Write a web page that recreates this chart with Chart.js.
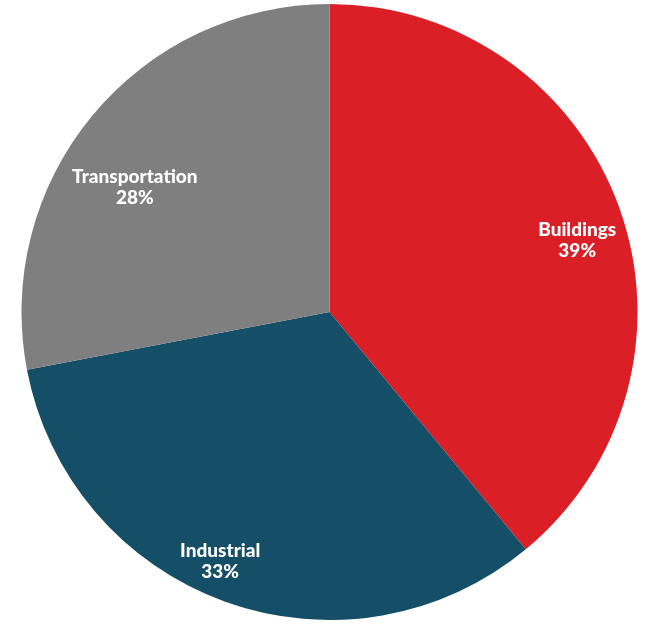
<!DOCTYPE html>
<html>
<head>
<meta charset="utf-8">
<script src="https://cdn.jsdelivr.net/npm/chart.js@4.4.1/dist/chart.umd.min.js"></script>
<style>
  html, body { margin: 0; padding: 0; background: #ffffff; }
  #wrap { position: relative; width: 647px; height: 626px; }
</style>
</head>
<body>
<div id="wrap"><canvas id="pie"></canvas></div>
<script>
// Sector shares
const sectors = ["Buildings", "Industrial", "Transportation"];
const shares = [39, 33, 28];
const sectorColors = ["#DA1F26", "#144F67", "#7F7F7F"];

// Where each label sits inside its slice: fraction of the radius and angle nudge (deg)
const labelRadius = [0.838, 0.883, 0.751];
const labelNudge = [3.5, 3.9, -6.9];

// Draws "Name" over "NN%" in white inside each slice
const sliceLabels = {
  id: "sliceLabels",
  afterDatasetsDraw(chart) {
    const ctx = chart.ctx;
    const meta = chart.getDatasetMeta(0);
    const total = shares.reduce((a, b) => a + b, 0);
    ctx.save();
    ctx.fillStyle = "#ffffff";
    ctx.font = "900 19px Lato";
    ctx.textAlign = "center";
    ctx.textBaseline = "middle";
    meta.data.forEach((arc, i) => {
      const p = arc.getProps(["x", "y", "startAngle", "endAngle", "outerRadius"], true);
      const mid = (p.startAngle + p.endAngle) / 2 + labelNudge[i] * Math.PI / 180;
      const r = p.outerRadius * labelRadius[i];
      const lx = p.x + Math.cos(mid) * r;
      const ly = p.y + Math.sin(mid) * r;
      ctx.fillText(sectors[i], lx, ly - 10);
      ctx.fillText(Math.round(shares[i] / total * 100) + "%", lx, ly + 11);
    });
    ctx.restore();
  }
};

new Chart(document.getElementById("pie"), {
  type: "pie",
  plugins: [sliceLabels],
  data: {
    labels: sectors,
    datasets: [{
      data: shares,
      backgroundColor: sectorColors,
      borderWidth: 0
    }]
  },
  options: {
    responsive: true,
    maintainAspectRatio: false,
    animation: false,
    layout: { padding: { left: 21, right: 9, top: 4, bottom: 6 } },
    plugins: {
      legend: { display: false },
      tooltip: { enabled: false }
    }
  }
});
</script>
</body>
</html>
